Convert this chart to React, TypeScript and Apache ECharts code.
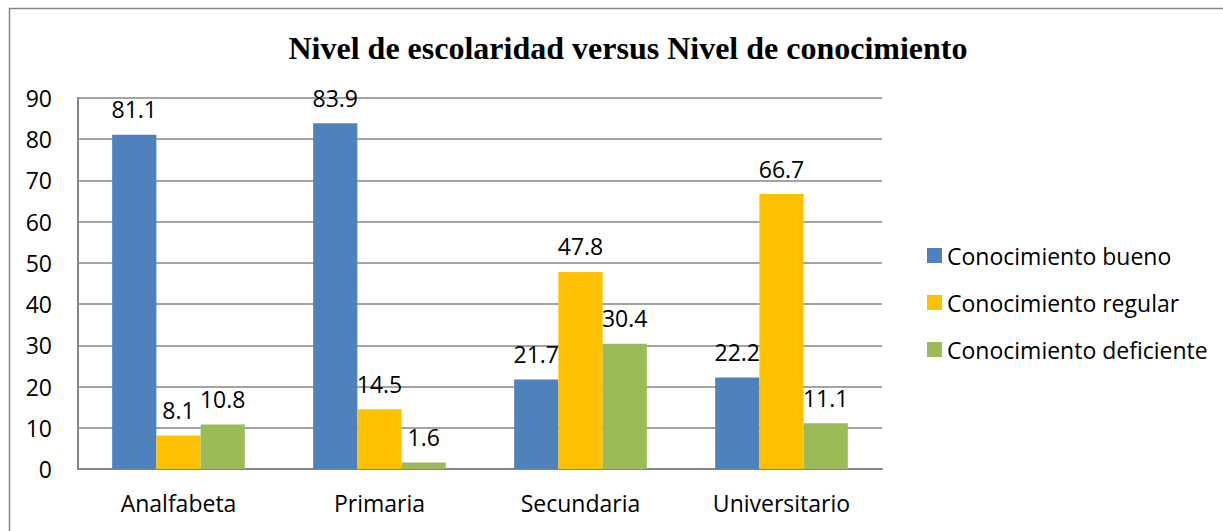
import React, { useEffect, useRef } from "react";
import * as echarts from "echarts";

const categories = ["Analfabeta", "Primaria", "Secundaria", "Universitario"];
const seriesNames = ["Conocimiento bueno", "Conocimiento regular", "Conocimiento deficiente"];
const bueno = [81.1, 83.9, 21.7, 22.2];
const regular = [8.1, 14.5, 47.8, 66.7];
const deficiente = [10.8, 1.6, 30.4, 11.1];
const colors = ["#4F81BD", "#FFC000", "#9BBB59"];
const titleText = "Nivel de escolaridad versus Nivel de conocimiento";

const FONT = "'Open Sans', Lato, sans-serif";
const FS = 23;

export default function App() {
  const ref = useRef<HTMLDivElement>(null);
  useEffect(() => {
    document.body.style.margin = "0";
    const chart = echarts.init(ref.current!, null, { renderer: "svg" });
    const values = [bueno, regular, deficiente];
    chart.setOption({
      animation: false,
      backgroundColor: "#ffffff",
      title: {
        text: titleText,
        left: 623,
        textAlign: "center",
        top: 27,
        textStyle: {
          fontFamily: "'Liberation Serif', 'Times New Roman', serif",
          fontWeight: "bold",
          fontSize: 32,
          color: "#000",
        },
      },
      graphic: [
        {
          type: "rect",
          shape: { x: 9.5, y: 8.5, width: 1400, height: 800 },
          style: { fill: "none", stroke: "#868686", lineWidth: 1.5 },
          silent: true,
        },
      ],
      legend: {
        orient: "vertical",
        left: 922,
        top: 239,
        itemWidth: 15,
        itemHeight: 15,
        itemGap: 24,
        icon: "rect",
        textStyle: { fontFamily: FONT, fontSize: FS, color: "#000" },
        data: seriesNames,
      },
      grid: { left: 78, top: 98, right: 341, bottom: 62, containLabel: false },
      xAxis: {
        type: "category",
        data: categories,
        axisLine: { lineStyle: { color: "#868686", width: 2 } },
        axisTick: { show: false },
        axisLabel: { fontFamily: FONT, fontSize: FS, color: "#000", margin: 22 },
      },
      yAxis: {
        type: "value",
        min: 0,
        max: 90,
        interval: 10,
        axisLine: { show: true, lineStyle: { color: "#868686", width: 2 } },
        axisTick: { show: false },
        axisLabel: { fontFamily: FONT, fontSize: FS, color: "#000", margin: 26 },
        splitLine: { lineStyle: { color: "#868686", width: 1.5 } },
      },
      series: seriesNames.map((name, i) => ({
        name,
        type: "bar",
        data: values[i],
        barGap: "0%",
        barCategoryGap: "34%",
        itemStyle: { color: colors[i] },
        label: {
          show: true,
          position: "top",
          distance: 14,
          fontFamily: FONT,
          fontSize: FS,
          color: "#000",
        },
      })),
    });
    return () => chart.dispose();
  }, []);
  return <div ref={ref} style={{ width: 1223, height: 531 }} />;
}
